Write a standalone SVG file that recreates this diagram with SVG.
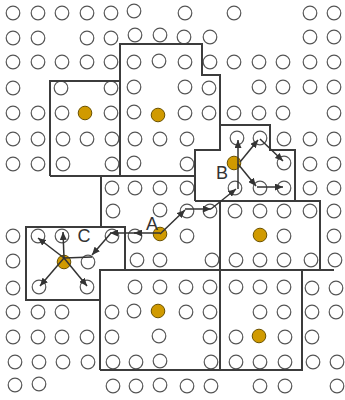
<svg xmlns="http://www.w3.org/2000/svg" width="345" height="400" viewBox="0 0 345 400">
<style>
.c{fill:#fff;stroke:#555;stroke-width:1.2}
.g{fill:#D09A00;stroke:#6b5200;stroke-width:1}
.box{fill:none;stroke:#3c3c3c;stroke-width:2;stroke-linejoin:miter}
.ar{fill:none;stroke:#333;stroke-width:1.5}
.ae{marker-end:url(#ah)}
.lbl{font-family:"Liberation Sans",Arial,sans-serif;font-size:18px;fill:#333}
</style>
<defs>
<marker id="ah" markerUnits="userSpaceOnUse" markerWidth="9" markerHeight="7" refX="8" refY="3.5" orient="auto">
<path d="M0,0 L8,3.5 L0,7 z" fill="#333"/>
</marker>
</defs>
<rect width="345" height="400" fill="#fff"/>
<g id="grid">
<!-- row 0 -->
<circle class="c" cx="13" cy="13" r="6.8"/><circle class="c" cx="38" cy="13" r="6.8"/><circle class="c" cx="62" cy="13" r="6.8"/><circle class="c" cx="87" cy="13" r="6.8"/><circle class="c" cx="111" cy="13" r="6.8"/><circle class="c" cx="134" cy="11" r="6.8"/><circle class="c" cx="185" cy="13" r="6.8"/><circle class="c" cx="234" cy="13" r="6.8"/><circle class="c" cx="310" cy="13" r="6.8"/><circle class="c" cx="334" cy="13" r="6.8"/>
<!-- row 1 -->
<circle class="c" cx="13" cy="38" r="6.8"/><circle class="c" cx="38" cy="38" r="6.8"/><circle class="c" cx="87" cy="38" r="6.8"/><circle class="c" cx="111" cy="38" r="6.8"/><circle class="c" cx="135" cy="35" r="6.8"/><circle class="c" cx="160" cy="35" r="6.8"/><circle class="c" cx="184" cy="37" r="6.8"/><circle class="c" cx="210" cy="37" r="6.8"/><circle class="c" cx="310" cy="37" r="6.8"/><circle class="c" cx="334" cy="37" r="6.8"/>
<!-- row 2 -->
<circle class="c" cx="13" cy="62" r="6.8"/><circle class="c" cx="38" cy="62" r="6.8"/><circle class="c" cx="62" cy="62" r="6.8"/><circle class="c" cx="87" cy="62" r="6.8"/><circle class="c" cx="111" cy="62" r="6.8"/><circle class="c" cx="134" cy="62" r="6.8"/><circle class="c" cx="159" cy="61" r="6.8"/><circle class="c" cx="185" cy="62" r="6.8"/><circle class="c" cx="210" cy="62" r="6.8"/><circle class="c" cx="234" cy="62" r="6.8"/><circle class="c" cx="259" cy="62" r="6.8"/><circle class="c" cx="283" cy="62" r="6.8"/><circle class="c" cx="310" cy="62" r="6.8"/><circle class="c" cx="334" cy="62" r="6.8"/>
<!-- row 3 -->
<circle class="c" cx="13" cy="88" r="6.8"/><circle class="c" cx="61" cy="88" r="6.8"/><circle class="c" cx="111" cy="88" r="6.8"/><circle class="c" cx="134" cy="87" r="6.8"/><circle class="c" cx="185" cy="87" r="6.8"/><circle class="c" cx="209" cy="88" r="6.8"/><circle class="c" cx="259" cy="87" r="6.8"/><circle class="c" cx="283" cy="87" r="6.8"/><circle class="c" cx="310" cy="87" r="6.8"/><circle class="c" cx="334" cy="87" r="6.8"/>
<!-- row 4 -->
<circle class="c" cx="13" cy="113" r="6.8"/><circle class="c" cx="38" cy="113" r="6.8"/><circle class="c" cx="62" cy="113" r="6.8"/><circle class="c" cx="111" cy="113" r="6.8"/><circle class="c" cx="134" cy="112" r="6.8"/><circle class="c" cx="185" cy="113" r="6.8"/><circle class="c" cx="209" cy="113" r="6.8"/><circle class="c" cx="234" cy="113" r="6.8"/><circle class="c" cx="259" cy="113" r="6.8"/><circle class="c" cx="283" cy="113" r="6.8"/><circle class="c" cx="334" cy="113" r="6.8"/>
<!-- row 5 -->
<circle class="c" cx="13" cy="139" r="6.8"/><circle class="c" cx="38" cy="139" r="6.8"/><circle class="c" cx="63" cy="139" r="6.8"/><circle class="c" cx="87" cy="139" r="6.8"/><circle class="c" cx="112" cy="139" r="6.8"/><circle class="c" cx="135" cy="139" r="6.8"/><circle class="c" cx="160" cy="139" r="6.8"/><circle class="c" cx="187" cy="139" r="6.8"/><circle class="c" cx="237" cy="138" r="6.8"/><circle class="c" cx="260" cy="138" r="6.8"/><circle class="c" cx="284" cy="139" r="6.8"/><circle class="c" cx="310" cy="139" r="6.8"/><circle class="c" cx="334" cy="139" r="6.8"/>
<!-- row 6 -->
<circle class="c" cx="13" cy="164" r="6.8"/><circle class="c" cx="38" cy="164" r="6.8"/><circle class="c" cx="63" cy="164" r="6.8"/><circle class="c" cx="112" cy="164" r="6.8"/><circle class="c" cx="134" cy="163" r="6.8"/><circle class="c" cx="187" cy="164" r="6.8"/><circle class="c" cx="284" cy="163" r="6.8"/><circle class="c" cx="310" cy="164" r="6.8"/><circle class="c" cx="334" cy="164" r="6.8"/>
<!-- row 7 -->
<circle class="c" cx="112" cy="188" r="6.8"/><circle class="c" cx="135" cy="188" r="6.8"/><circle class="c" cx="160" cy="188" r="6.8"/><circle class="c" cx="187" cy="188" r="6.8"/><circle class="c" cx="235" cy="188" r="6.8"/><circle class="c" cx="260" cy="188" r="6.8"/><circle class="c" cx="284" cy="188" r="6.8"/><circle class="c" cx="310" cy="188" r="6.8"/><circle class="c" cx="334" cy="188" r="6.8"/>
<!-- row 8 -->
<circle class="c" cx="113" cy="211" r="6.8"/><circle class="c" cx="160" cy="210" r="6.8"/><circle class="c" cx="187" cy="211" r="6.8"/><circle class="c" cx="210" cy="211" r="6.8"/><circle class="c" cx="235" cy="211" r="6.8"/><circle class="c" cx="260" cy="211" r="6.8"/><circle class="c" cx="284" cy="211" r="6.8"/><circle class="c" cx="310" cy="211" r="6.8"/><circle class="c" cx="334" cy="211" r="6.8"/>
<!-- row 9 -->
<circle class="c" cx="13" cy="236" r="6.8"/><circle class="c" cx="38" cy="236" r="6.8"/><circle class="c" cx="62" cy="236" r="6.8"/><circle class="c" cx="112" cy="236" r="6.8"/><circle class="c" cx="135" cy="236" r="6.8"/><circle class="c" cx="187" cy="236" r="6.8"/><circle class="c" cx="284" cy="236" r="6.8"/><circle class="c" cx="334" cy="236" r="6.8"/>
<!-- row 10 -->
<circle class="c" cx="13" cy="261" r="6.8"/><circle class="c" cx="88" cy="262" r="6.8"/><circle class="c" cx="137" cy="260" r="6.8"/><circle class="c" cx="160" cy="260" r="6.8"/><circle class="c" cx="212" cy="260" r="6.8"/><circle class="c" cx="236" cy="260" r="6.8"/><circle class="c" cx="260" cy="260" r="6.8"/><circle class="c" cx="284" cy="260" r="6.8"/><circle class="c" cx="311" cy="260" r="6.8"/><circle class="c" cx="335" cy="260" r="6.8"/>
<!-- row 11 -->
<circle class="c" cx="13" cy="288" r="6.8"/><circle class="c" cx="39" cy="287" r="6.8"/><circle class="c" cx="87" cy="287" r="6.8"/><circle class="c" cx="135" cy="287" r="6.8"/><circle class="c" cx="160" cy="287" r="6.8"/><circle class="c" cx="186" cy="287" r="6.8"/><circle class="c" cx="210" cy="287" r="6.8"/><circle class="c" cx="236" cy="287" r="6.8"/><circle class="c" cx="260" cy="287" r="6.8"/><circle class="c" cx="284" cy="287" r="6.8"/><circle class="c" cx="312" cy="288" r="6.8"/><circle class="c" cx="336" cy="288" r="6.8"/>
<!-- row 12 -->
<circle class="c" cx="13" cy="312" r="6.8"/><circle class="c" cx="38" cy="312" r="6.8"/><circle class="c" cx="62" cy="312" r="6.8"/><circle class="c" cx="112" cy="312" r="6.8"/><circle class="c" cx="134" cy="311" r="6.8"/><circle class="c" cx="186" cy="312" r="6.8"/><circle class="c" cx="210" cy="312" r="6.8"/><circle class="c" cx="260" cy="312" r="6.8"/><circle class="c" cx="284" cy="312" r="6.8"/><circle class="c" cx="312" cy="312" r="6.8"/><circle class="c" cx="336" cy="312" r="6.8"/>
<!-- row 13 -->
<circle class="c" cx="13" cy="337" r="6.8"/><circle class="c" cx="38" cy="337" r="6.8"/><circle class="c" cx="62" cy="337" r="6.8"/><circle class="c" cx="87" cy="337" r="6.8"/><circle class="c" cx="112" cy="337" r="6.8"/><circle class="c" cx="159" cy="336" r="6.8"/><circle class="c" cx="210" cy="337" r="6.8"/><circle class="c" cx="236" cy="337" r="6.8"/><circle class="c" cx="285" cy="337" r="6.8"/><circle class="c" cx="312" cy="337" r="6.8"/>
<!-- row 14 -->
<circle class="c" cx="15" cy="362" r="6.8"/><circle class="c" cx="39" cy="362" r="6.8"/><circle class="c" cx="63" cy="362" r="6.8"/><circle class="c" cx="88" cy="362" r="6.8"/><circle class="c" cx="113" cy="362" r="6.8"/><circle class="c" cx="136" cy="362" r="6.8"/><circle class="c" cx="160" cy="361" r="6.8"/><circle class="c" cx="211" cy="362" r="6.8"/><circle class="c" cx="236" cy="362" r="6.8"/><circle class="c" cx="260" cy="362" r="6.8"/><circle class="c" cx="285" cy="362" r="6.8"/><circle class="c" cx="313" cy="362" r="6.8"/><circle class="c" cx="337" cy="362" r="6.8"/>
<!-- row 15 -->
<circle class="c" cx="15" cy="385" r="6.8"/><circle class="c" cx="39" cy="384" r="6.8"/><circle class="c" cx="113" cy="386" r="6.8"/><circle class="c" cx="136" cy="386" r="6.8"/><circle class="c" cx="160" cy="385" r="6.8"/><circle class="c" cx="187" cy="386" r="6.8"/><circle class="c" cx="211" cy="386" r="6.8"/><circle class="c" cx="260" cy="386" r="6.8"/><circle class="c" cx="285" cy="386" r="6.8"/><circle class="c" cx="337" cy="386" r="6.8"/>
</g>
<g id="leaders">
<circle class="g" cx="85" cy="113" r="6.8"/>
<circle class="g" cx="158" cy="115" r="6.8"/>
<circle class="g" cx="260" cy="235" r="6.8"/>
<circle class="g" cx="158" cy="311" r="6.8"/>
<circle class="g" cx="259" cy="336" r="6.8"/>
</g>
<g id="node-A"><circle class="g" cx="160" cy="234" r="6.8"/><text class="lbl" x="152" y="230" text-anchor="middle">A</text></g>
<g id="node-B"><circle class="g" cx="234" cy="163" r="6.8"/><text class="lbl" x="222" y="179" text-anchor="middle">B</text></g>
<g id="node-C"><circle class="g" cx="64" cy="262" r="6.8"/><text class="lbl" x="84" y="242" text-anchor="middle">C</text></g>
<g id="regions">
<path class="box" d="M50,176 V81 H120"/>
<path class="box" d="M120,176 V44 H202 V75 H220 V150 H195 V201"/>
<path class="box" d="M220,125 H270 V150 H295 V201"/>
<path class="box" d="M50,176 H195"/>
<path class="box" d="M195,201 H320 V270"/>
<path class="box" d="M101,176 V227"/>
<path class="box" d="M125,270 V227 H26 V300 H101"/>
<path class="box" d="M100,370 V270 H334"/>
<path class="box" d="M100,370 H302 V270"/>
<path class="box" d="M220,201 V370"/>
</g>
<g id="connectors">
<path class="ar ae" d="M160,234 L185,210"/>
<path class="ar ae" d="M185,209 L211,209"/>
<path class="ar ae" d="M211,209 L236,189"/>
<path class="ar ae" d="M238,189 L238,140"/>
<path class="ar ae" d="M240,162 L258,140"/>
<path class="ar ae" d="M260,139 L283,161"/>
<path class="ar ae" d="M238,164 L256,186"/>
<path class="ar ae" d="M257,187 L283,187"/>
<path class="ar ae" d="M160,233 L134,233"/>
<path class="ar ae" d="M136,233 L110,233"/>
<path class="ar ae" d="M111,233 L92,255"/>
<path class="ar" d="M92,257 L64,258"/>
<path class="ar ae" d="M64,258 L63,232"/>
<path class="ar ae" d="M64,258 L38,238"/>
<path class="ar ae" d="M64,258 L40,286"/>
<path class="ar ae" d="M64,258 L87,286"/>
</g>
</svg>
